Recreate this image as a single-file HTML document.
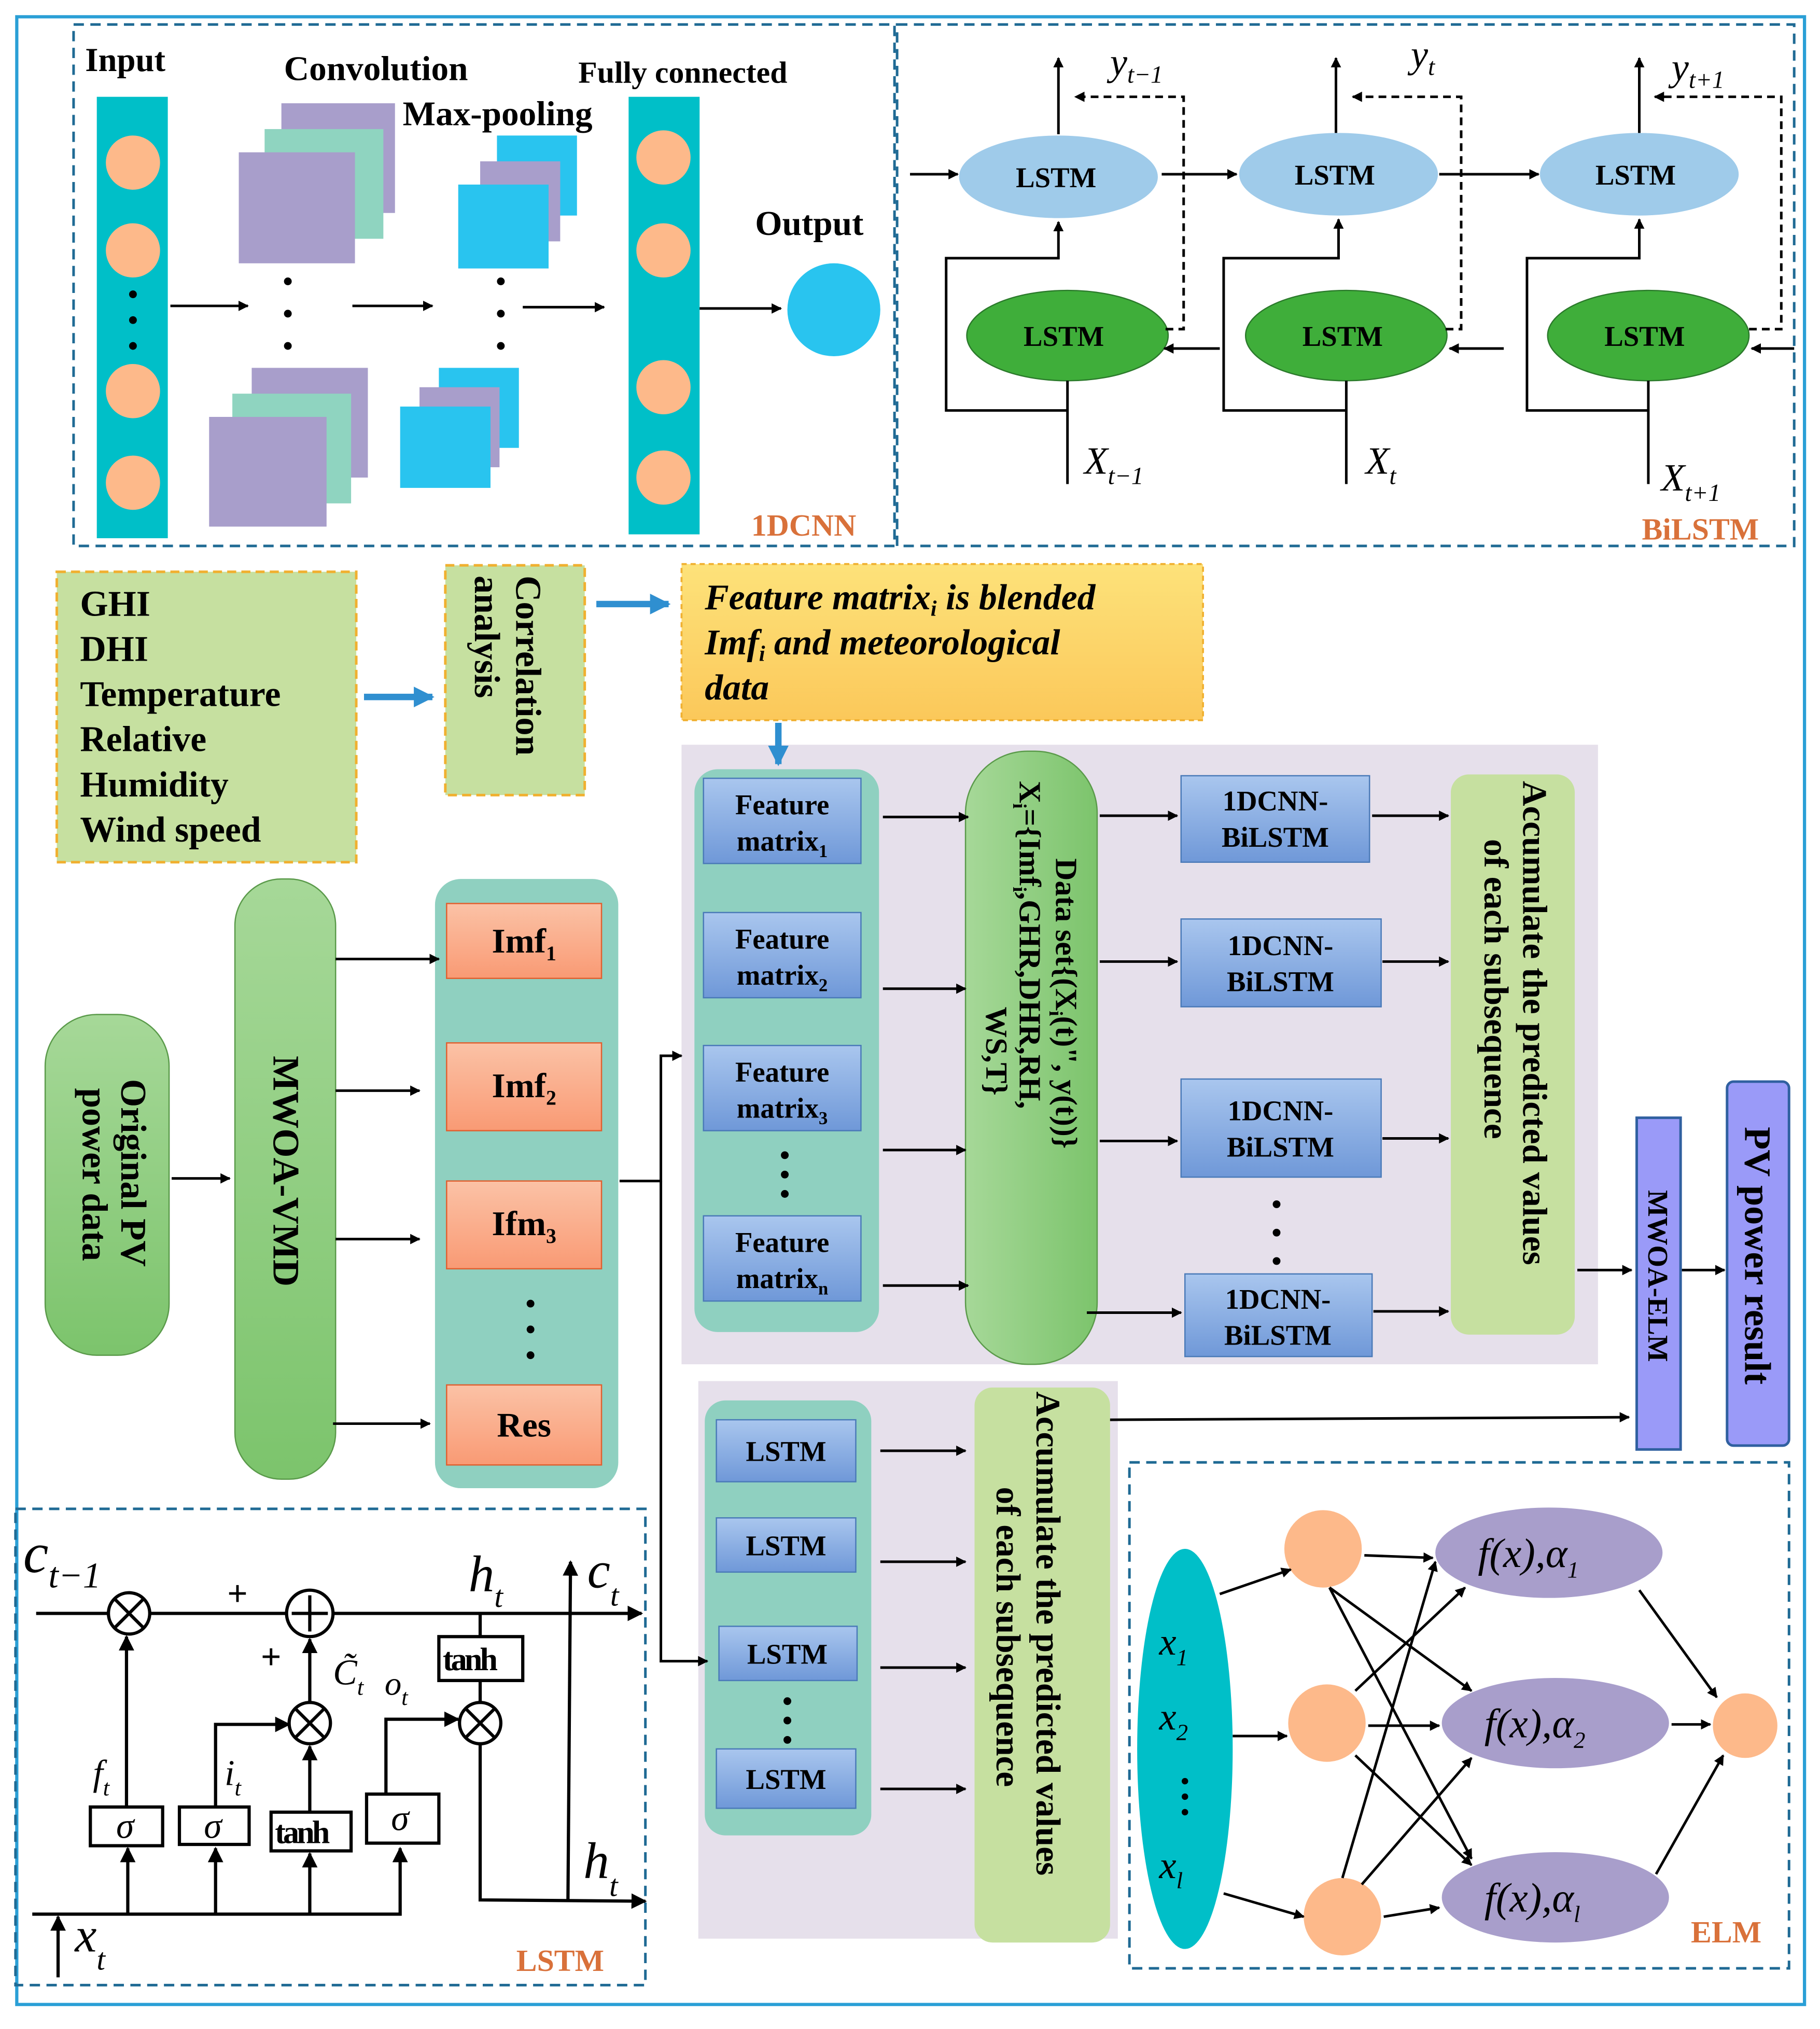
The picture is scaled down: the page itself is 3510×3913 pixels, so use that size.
<!DOCTYPE html>
<html><head><meta charset="utf-8"><style>
html,body{margin:0;padding:0;background:#fff}
svg{display:block}
text{font-family:"Liberation Serif",serif;font-weight:bold;fill:#000}
.it{font-style:italic;font-weight:normal}
.or{fill:#d9713a}
</style></head><body>
<svg width="3510" height="3913" viewBox="0 0 1410 1572" preserveAspectRatio="none" xmlns="http://www.w3.org/2000/svg">
<defs>
<marker id="a" viewBox="0 0 10 10" refX="9" refY="5" markerWidth="8" markerHeight="8" markerUnits="userSpaceOnUse" orient="auto"><path d="M0,0L10,5L0,10z" fill="#000"/></marker>
<marker id="ab" viewBox="0 0 10 10" refX="9" refY="5" markerWidth="12" markerHeight="12" markerUnits="userSpaceOnUse" orient="auto"><path d="M0,0L10,5L0,10z" fill="#000"/></marker>
<marker id="bl" viewBox="0 0 10 10" refX="9" refY="5" markerWidth="16" markerHeight="16" markerUnits="userSpaceOnUse" orient="auto"><path d="M0,0L10,5L0,10z" fill="#2f8fd0"/></marker>
<linearGradient id="gg" x1="0" y1="0" x2="1" y2="0"><stop offset="0" stop-color="#a6d898"/><stop offset="1" stop-color="#7cc46c"/></linearGradient>
<linearGradient id="gv" x1="0" y1="0" x2="0" y2="1"><stop offset="0" stop-color="#a6d898"/><stop offset="1" stop-color="#7cc46c"/></linearGradient>
<linearGradient id="bb" x1="0" y1="0" x2="0" y2="1"><stop offset="0" stop-color="#a9c6ee"/><stop offset="1" stop-color="#6f98d8"/></linearGradient>
<linearGradient id="ob" x1="0" y1="0" x2="0" y2="1"><stop offset="0" stop-color="#fbc2a6"/><stop offset="1" stop-color="#f99a74"/></linearGradient>
<linearGradient id="yb" x1="0" y1="0" x2="0" y2="1"><stop offset="0" stop-color="#fde27a"/><stop offset="1" stop-color="#fbc85a"/></linearGradient>
</defs>
<rect x="13" y="13" width="1385" height="1540" fill="none" stroke="#2a9fd6" stroke-width="2.5"/>
<!-- 1DCNN -->
<rect x="57" y="19" width="636" height="404" fill="none" stroke="#1f6a94" stroke-width="2" stroke-dasharray="8,5"/>
<rect x="695" y="19" width="695" height="404" fill="none" stroke="#1f6a94" stroke-width="2" stroke-dasharray="8,5"/>
<text x="66" y="55" font-size="26">Input</text>
<rect x="75" y="75" width="55" height="342" fill="#00bfc8"/>
<g fill="#fdb98a"><circle cx="103" cy="126" r="21"/><circle cx="103" cy="194" r="21"/><circle cx="103" cy="303" r="21"/><circle cx="103" cy="374" r="21"/></g>
<g fill="#000"><circle cx="103" cy="228" r="3"/><circle cx="103" cy="248" r="3"/><circle cx="103" cy="268" r="3"/></g>
<text x="220" y="62" font-size="27">Convolution</text>
<rect x="218" y="80" width="88" height="85" fill="#a89ecb"/><rect x="205" y="100" width="92" height="85" fill="#8fd4c0"/><rect x="185" y="118" width="90" height="86" fill="#a89ecb"/>
<rect x="195" y="285" width="90" height="85" fill="#a89ecb"/><rect x="180" y="305" width="92" height="85" fill="#8fd4c0"/><rect x="162" y="323" width="91" height="85" fill="#a89ecb"/>
<g fill="#000"><circle cx="223" cy="218" r="3"/><circle cx="223" cy="243" r="3"/><circle cx="223" cy="268" r="3"/><circle cx="388" cy="218" r="3"/><circle cx="388" cy="243" r="3"/><circle cx="388" cy="268" r="3"/><circle cx="514" cy="230" r="3"/><circle cx="514" cy="248" r="3"/><circle cx="514" cy="266" r="3"/></g>
<text x="312" y="97" font-size="27">Max-pooling</text>
<rect x="385" y="105" width="62" height="62" fill="#29c4ef"/><rect x="372" y="125" width="62" height="62" fill="#a89ecb"/><rect x="355" y="143" width="70" height="65" fill="#29c4ef"/>
<rect x="340" y="285" width="62" height="62" fill="#29c4ef"/><rect x="325" y="300" width="62" height="62" fill="#a89ecb"/><rect x="310" y="315" width="70" height="63" fill="#29c4ef"/>
<text x="448" y="64" font-size="24">Fully connected</text>
<rect x="487" y="75" width="55" height="339" fill="#00bfc8"/>
<g fill="#fdb98a"><circle cx="514" cy="122" r="21"/><circle cx="514" cy="194" r="21"/><circle cx="514" cy="300" r="21"/><circle cx="514" cy="370" r="21"/></g>
<text x="585" y="182" font-size="27">Output</text>
<circle cx="646" cy="240" r="36" fill="#29c4ef"/>
<g stroke="#000" stroke-width="2" marker-end="url(#a)"><line x1="132" y1="237" x2="192" y2="237"/><line x1="273" y1="237" x2="335" y2="237"/><line x1="405" y1="238" x2="468" y2="238"/><line x1="542" y1="239" x2="605" y2="239"/></g>
<text x="582" y="415" font-size="24" class="or">1DCNN</text>
<!-- BiLSTM -->
<g fill="#9fcbea"><ellipse cx="820" cy="137" rx="77" ry="32"/><ellipse cx="1037" cy="135" rx="77" ry="32"/><ellipse cx="1270" cy="135" rx="77" ry="32"/></g>
<g fill="#3fae3a" stroke="#2b7a2b"><ellipse cx="827" cy="260" rx="78" ry="35"/><ellipse cx="1043" cy="260" rx="78" ry="35"/><ellipse cx="1277" cy="260" rx="78" ry="35"/></g>
<g font-size="22"><text x="787" y="145">LSTM</text><text x="1003" y="143">LSTM</text><text x="1236" y="143">LSTM</text><text x="793" y="268">LSTM</text><text x="1009" y="268">LSTM</text><text x="1243" y="268">LSTM</text></g>
<g stroke="#000" stroke-width="2" fill="none" marker-end="url(#a)">
<line x1="705" y1="135" x2="742" y2="135"/><line x1="900" y1="135" x2="958" y2="135"/><line x1="1115" y1="135" x2="1192" y2="135"/>
<line x1="820" y1="104" x2="820" y2="45"/><line x1="1035" y1="103" x2="1035" y2="45"/><line x1="1270" y1="103" x2="1270" y2="45"/>
<line x1="945" y1="270" x2="902" y2="270"/><line x1="1165" y1="270" x2="1123" y2="270"/><line x1="1390" y1="270" x2="1357" y2="270"/>
<path d="M827 375V295M827 318H733V200H820V172"/><path d="M1043 375V295M1043 318H948V200H1037V170"/><path d="M1277 375V295M1277 318H1183V200H1270V170"/>
</g>
<g stroke="#000" stroke-width="2" fill="none" stroke-dasharray="6,4" marker-end="url(#a)"><path d="M903 255H917V75H833"/><path d="M1120 255H1132V75H1048"/><path d="M1355 255H1380V75H1282"/></g>
<g class="it" font-size="30"><text x="860" y="58" class="it">y<tspan font-size="19" dy="6">t−1</tspan></text><text x="1093" y="52" class="it">y<tspan font-size="19" dy="6">t</tspan></text><text x="1295" y="62" class="it">y<tspan font-size="19" dy="6">t+1</tspan></text>
<text x="840" y="367" class="it">X<tspan font-size="19" dy="8">t−1</tspan></text><text x="1058" y="367" class="it">X<tspan font-size="19" dy="8">t</tspan></text><text x="1287" y="380" class="it">X<tspan font-size="19" dy="8">t+1</tspan></text></g>
<text x="1272" y="418" font-size="24" class="or">BiLSTM</text>
<!-- middle inputs -->
<rect x="44" y="443" width="232" height="225" fill="#c6e0a0" stroke="#f0b030" stroke-width="2" stroke-dasharray="7,4"/>
<g font-size="28"><text x="62" y="477">GHI</text><text x="62" y="512">DHI</text><text x="62" y="547">Temperature</text><text x="62" y="582">Relative</text><text x="62" y="617">Humidity</text><text x="62" y="652">Wind speed</text></g>
<rect x="345" y="438" width="108" height="178" fill="#c6e0a0" stroke="#f0b030" stroke-width="2" stroke-dasharray="7,4"/>
<g font-size="28" transform="rotate(90)"><text x="446" y="-400">Correlation</text><text x="446" y="-368">analysis</text></g>
<g stroke="#2f8fd0" stroke-width="5" marker-end="url(#bl)"><line x1="282" y1="540" x2="335" y2="540"/><line x1="462" y1="468" x2="518" y2="468"/></g>
<rect x="528" y="437" width="404" height="121" fill="url(#yb)" stroke="#f0b030" stroke-width="1.5" stroke-dasharray="4,3"/>
<g font-size="28" font-style="italic"><text x="546" y="472">Feature matrix<tspan font-size="17" dy="5">i</tspan><tspan dy="-5"> is blended</tspan></text><text x="546" y="507">Imf<tspan font-size="17" dy="5">i</tspan><tspan dy="-5">  and meteorological</tspan></text><text x="546" y="542">data</text></g>
<!-- upper panel -->
<rect x="528" y="577" width="710" height="480" fill="#e6e0eb"/>
<line x1="603" y1="560" x2="603" y2="592" stroke="#2f8fd0" stroke-width="5" marker-end="url(#bl)"/>
<rect x="538" y="596" width="143" height="436" rx="18" fill="#8fd0c0"/>
<g fill="url(#bb)" stroke="#4a7ab8"><rect x="545" y="603" width="122" height="66"/><rect x="545" y="707" width="122" height="66"/><rect x="545" y="810" width="122" height="66"/><rect x="545" y="942" width="122" height="66"/></g>
<g font-size="22" text-anchor="middle"><text x="606" y="631">Feature</text><text x="606" y="659">matrix<tspan font-size="14" dy="5">1</tspan></text>
<text x="606" y="735">Feature</text><text x="606" y="763">matrix<tspan font-size="14" dy="5">2</tspan></text>
<text x="606" y="838">Feature</text><text x="606" y="866">matrix<tspan font-size="14" dy="5">3</tspan></text>
<text x="606" y="970">Feature</text><text x="606" y="998">matrix<tspan font-size="14" dy="5">n</tspan></text></g>
<rect x="748" y="582" width="102" height="475" rx="48" fill="url(#gg)" stroke="#5a9a4a"/>
<g font-size="24" transform="rotate(90)"><text x="665" y="-818">Data set{(X<tspan font-size="15" dy="5">i</tspan><tspan dy="-5">(t)",   y(t))}</tspan></text><text x="605" y="-790">X<tspan font-size="15" dy="5">i</tspan><tspan dy="-5">={Imf</tspan><tspan font-size="15" dy="5">i</tspan><tspan dy="-5">,GHR,DHR,RH,</tspan></text><text x="780" y="-764">WS,T}</text></g>
<g fill="url(#bb)" stroke="#4a7ab8"><rect x="915" y="601" width="146" height="67"/><rect x="915" y="712" width="155" height="68"/><rect x="915" y="836" width="155" height="76"/><rect x="918" y="987" width="145" height="64"/></g>
<g font-size="22" text-anchor="middle"><text x="988" y="628">1DCNN-</text><text x="988" y="656">BiLSTM</text><text x="992" y="740">1DCNN-</text><text x="992" y="768">BiLSTM</text><text x="992" y="868">1DCNN-</text><text x="992" y="896">BiLSTM</text><text x="990" y="1014">1DCNN-</text><text x="990" y="1042">BiLSTM</text></g>
<rect x="1124" y="600" width="96" height="434" rx="14" fill="#c6e0a0"/>
<g font-size="27" transform="rotate(90)"><text x="605" y="-1180">Accumulate the predicted values</text><text x="650" y="-1150">of each subsequence</text></g>
<rect x="1268" y="866" width="34" height="257" fill="#9a9af8" stroke="#3060a0" stroke-width="2"/>
<text transform="rotate(90)" x="922" y="-1277" font-size="22">MWOA-ELM</text>
<rect x="1338" y="838" width="48" height="282" rx="5" fill="#9a9af8" stroke="#3060a0" stroke-width="2"/>
<text transform="rotate(90)" x="873" y="-1352" font-size="29">PV power result</text>
<!-- left -->
<rect x="35" y="786" width="96" height="264" rx="40" fill="url(#gv)" stroke="#5a9a4a"/>
<g font-size="28" transform="rotate(90)"><text x="836" y="-94">Original PV</text><text x="843" y="-64">power data</text></g>
<rect x="182" y="681" width="78" height="465" rx="36" fill="url(#gv)" stroke="#5a9a4a"/>
<text transform="rotate(90)" x="818" y="-212" font-size="29">MWOA-VMD</text>
<rect x="337" y="681" width="142" height="472" rx="20" fill="#8fd0c0"/>
<g fill="url(#ob)" stroke="#e06030"><rect x="346" y="700" width="120" height="58"/><rect x="346" y="808" width="120" height="68"/><rect x="346" y="915" width="120" height="68"/><rect x="346" y="1073" width="120" height="62"/></g>
<g font-size="27" text-anchor="middle"><text x="406" y="738">Imf<tspan font-size="16" dy="6">1</tspan></text><text x="406" y="850">Imf<tspan font-size="16" dy="6">2</tspan></text><text x="406" y="957">Ifm<tspan font-size="16" dy="6">3</tspan></text><text x="406" y="1113">Res</text></g>
<!-- lower panel -->
<rect x="541" y="1070" width="325" height="432" fill="#e6e0eb"/>
<rect x="546" y="1085" width="129" height="337" rx="16" fill="#8fd0c0"/>
<g fill="url(#bb)" stroke="#4a7ab8"><rect x="555" y="1100" width="108" height="48"/><rect x="555" y="1176" width="108" height="42"/><rect x="557" y="1260" width="107" height="42"/><rect x="555" y="1355" width="108" height="46"/></g>
<g font-size="22" text-anchor="middle"><text x="609" y="1132">LSTM</text><text x="609" y="1205">LSTM</text><text x="610" y="1289">LSTM</text><text x="609" y="1386">LSTM</text></g>
<rect x="755" y="1075" width="105" height="430" rx="14" fill="#c6e0a0"/>
<g font-size="27" transform="rotate(90)"><text x="1078" y="-803">Accumulate the predicted values</text><text x="1152" y="-772">of each subsequence</text></g>
<!-- dots (on top) -->
<g fill="#000"><circle cx="608" cy="895" r="3"/><circle cx="608" cy="910" r="3"/><circle cx="608" cy="925" r="3"/><circle cx="989" cy="933" r="3"/><circle cx="989" cy="955" r="3"/><circle cx="989" cy="977" r="3"/><circle cx="411" cy="1010" r="3"/><circle cx="411" cy="1030" r="3"/><circle cx="411" cy="1050" r="3"/><circle cx="610" cy="1318" r="3"/><circle cx="610" cy="1333" r="3"/><circle cx="610" cy="1348" r="3"/></g>
<g stroke="#000" stroke-width="2" marker-end="url(#a)">
<line x1="684" y1="633" x2="750" y2="633"/><line x1="684" y1="766" x2="748" y2="766"/><line x1="684" y1="891" x2="748" y2="891"/><line x1="684" y1="996" x2="750" y2="996"/>
<line x1="852" y1="632" x2="912" y2="632"/><line x1="852" y1="745" x2="912" y2="745"/><line x1="852" y1="884" x2="912" y2="884"/><line x1="842" y1="1017" x2="915" y2="1017"/>
<line x1="1063" y1="632" x2="1122" y2="632"/><line x1="1071" y1="745" x2="1122" y2="745"/><line x1="1071" y1="882" x2="1122" y2="882"/><line x1="1064" y1="1016" x2="1122" y2="1016"/>
<line x1="1222" y1="984" x2="1264" y2="984"/><line x1="1303" y1="984" x2="1336" y2="984"/>
<line x1="133" y1="913" x2="178" y2="913"/><line x1="260" y1="743" x2="340" y2="743"/><line x1="260" y1="845" x2="325" y2="845"/><line x1="260" y1="960" x2="325" y2="960"/><line x1="258" y1="1103" x2="333" y2="1103"/>
<line x1="682" y1="1124" x2="748" y2="1124"/><line x1="682" y1="1210" x2="748" y2="1210"/><line x1="682" y1="1292" x2="748" y2="1292"/><line x1="682" y1="1386" x2="748" y2="1386"/>
<line x1="860" y1="1100" x2="1262" y2="1098"/>
</g>
<g stroke="#000" stroke-width="2" fill="none" marker-end="url(#a)"><path d="M480 915H512V818H528"/><path d="M512 915V1287H548"/></g>
<!-- LSTM cell -->
<rect x="12" y="1169" width="488" height="369" fill="none" stroke="#1f6a94" stroke-width="2" stroke-dasharray="8,5"/>
<text x="18" y="1218" font-size="44" class="it">c<tspan font-size="28" dy="12">t−1</tspan></text>
<text x="363" y="1233" font-size="40" class="it">h<tspan font-size="24" dy="12">t</tspan></text>
<text x="455" y="1230" font-size="40" class="it">c<tspan font-size="24" dy="14">t</tspan></text>
<text x="452" y="1455" font-size="40" class="it">h<tspan font-size="24" dy="14">t</tspan></text>
<text x="58" y="1512" font-size="38" class="it">x<tspan font-size="24" dy="14">t</tspan></text>
<text x="72" y="1383" font-size="28" class="it">f<tspan font-size="18" dy="8">t</tspan></text>
<text x="174" y="1383" font-size="28" class="it">i<tspan font-size="18" dy="8">t</tspan></text>
<text x="258" y="1305" font-size="28" class="it">C̃<tspan font-size="18" dy="8">t</tspan></text>
<text x="298" y="1313" font-size="26" class="it">o<tspan font-size="18" dy="8">t</tspan></text>
<text x="176" y="1244" font-size="28" font-weight="normal">+</text>
<text x="202" y="1293" font-size="28" font-weight="normal">+</text>
<g stroke="#000" stroke-width="2.5" fill="none">
<line x1="28" y1="1250" x2="84" y2="1250"/><line x1="116" y1="1250" x2="222" y2="1250"/><path d="M258 1250H497" marker-end="url(#ab)"/>
<circle cx="100" cy="1250" r="16" fill="#fff"/><path d="M89 1239L111 1261M111 1239L89 1261"/>
<circle cx="240" cy="1250" r="18" fill="#fff"/><path d="M226 1250H254M240 1236V1264"/>
<circle cx="240" cy="1335" r="16"/><path d="M229 1324L251 1346M251 1324L229 1346"/>
<circle cx="372" cy="1335" r="16"/><path d="M361 1324L383 1346M383 1324L361 1346"/>
<rect x="340" y="1268" width="65" height="34"/>
<line x1="372" y1="1250" x2="372" y2="1268"/><line x1="372" y1="1302" x2="372" y2="1319"/>
<rect x="70" y="1400" width="56" height="30"/><rect x="139" y="1400" width="54" height="29"/><rect x="210" y="1404" width="62" height="30"/><rect x="284" y="1390" width="56" height="38"/>
<path d="M98 1400V1268" marker-end="url(#ab)"/>
<path d="M167 1400V1336H224" marker-end="url(#ab)"/>
<path d="M240 1404V1353" marker-end="url(#ab)"/>
<path d="M240 1319V1270" marker-end="url(#ab)"/>
<path d="M299 1390V1332H355" marker-end="url(#ab)"/>
<path d="M372 1351V1472L500 1473" marker-end="url(#ab)"/>
<path d="M440 1473L442 1210" marker-end="url(#ab)"/>
<path d="M25 1483H310V1432" marker-end="url(#ab)"/>
<path d="M99 1483V1432" marker-end="url(#ab)"/><path d="M167 1483V1432" marker-end="url(#ab)"/><path d="M240 1483V1436" marker-end="url(#ab)"/>
<path d="M45 1532V1485" marker-end="url(#ab)"/>
</g>
<g font-size="28" class="it" font-weight="normal"><text x="90" y="1424" class="it">σ</text><text x="158" y="1424" class="it">σ</text><text x="303" y="1418" class="it">σ</text></g>
<g font-size="25" font-weight="normal" letter-spacing="-2"><text x="213" y="1428" font-weight="normal">tanh</text><text x="343" y="1294" font-weight="normal">tanh</text></g>
<text x="400" y="1527" font-size="24" class="or">LSTM</text>
<!-- ELM -->
<rect x="875" y="1133" width="511" height="392" fill="none" stroke="#1f6a94" stroke-width="2" stroke-dasharray="8,5"/>
<ellipse cx="918" cy="1355" rx="37" ry="155" fill="#00bfc8"/>
<g font-size="30" class="it"><text x="898" y="1282" class="it">x<tspan font-size="18" dy="8">1</tspan></text><text x="898" y="1340" class="it">x<tspan font-size="18" dy="8">2</tspan></text><text x="898" y="1455" class="it">x<tspan font-size="18" dy="8">l</tspan></text></g>
<g fill="#000"><circle cx="918" cy="1380" r="2.5"/><circle cx="918" cy="1392" r="2.5"/><circle cx="918" cy="1404" r="2.5"/></g>
<g fill="#fdb98a"><circle cx="1025" cy="1200" r="30"/><circle cx="1028" cy="1335" r="30"/><circle cx="1040" cy="1485" r="30"/><circle cx="1352" cy="1337" r="25"/></g>
<g fill="#a89ecb"><ellipse cx="1200" cy="1203" rx="88" ry="35"/><ellipse cx="1205" cy="1335" rx="88" ry="35"/><ellipse cx="1205" cy="1470" rx="88" ry="35"/></g>
<g font-size="32" class="it"><text x="1145" y="1214" class="it">f(x),α<tspan font-size="18" dy="8">1</tspan></text><text x="1150" y="1346" class="it">f(x),α<tspan font-size="18" dy="8">2</tspan></text><text x="1150" y="1481" class="it">f(x),α<tspan font-size="18" dy="8">l</tspan></text></g>
<g stroke="#000" stroke-width="2" marker-end="url(#a)">
<line x1="945" y1="1235" x2="1000" y2="1216"/><line x1="955" y1="1345" x2="997" y2="1345"/><line x1="948" y1="1467" x2="1010" y2="1485"/>
<line x1="1057" y1="1205" x2="1110" y2="1207"/><line x1="1030" y1="1230" x2="1140" y2="1310"/><line x1="1030" y1="1230" x2="1140" y2="1440"/>
<line x1="1050" y1="1310" x2="1135" y2="1230"/><line x1="1060" y1="1337" x2="1115" y2="1337"/><line x1="1050" y1="1360" x2="1140" y2="1445"/>
<line x1="1040" y1="1455" x2="1112" y2="1210"/><line x1="1055" y1="1460" x2="1140" y2="1362"/><line x1="1072" y1="1485" x2="1115" y2="1478"/>
<line x1="1270" y1="1232" x2="1330" y2="1315"/><line x1="1295" y1="1336" x2="1325" y2="1336"/><line x1="1283" y1="1452" x2="1335" y2="1360"/>
</g>
<text x="1310" y="1505" font-size="24" class="or">ELM</text>
</svg>
</body></html>
